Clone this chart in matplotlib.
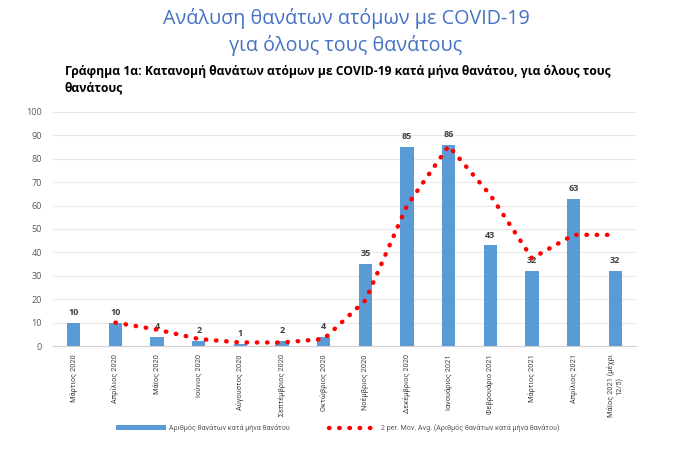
import matplotlib
matplotlib.use("Agg")
import matplotlib.pyplot as plt
import numpy as np

months = ["Μάρτιος 2020", "Απρίλιος 2020", "Μάϊος 2020", "Ιούνιος 2020", "Αύγουστος 2020",
          "Σεπτέμβριος 2020", "Οκτώβριος 2020", "Νοέμβριος 2020", "Δεκέμβριος 2020",
          "Ιανουάριος 2021", "Φεβρουάριο 2021", "Μάρτιος 2021", "Απρίλιος 2021",
          "Μάϊος 2021 (μέχρι\n12/5)"]
deaths = [10, 10, 4, 2, 1, 2, 4, 35, 85, 86, 43, 32, 63, 32]
yticks = [0, 10, 20, 30, 40, 50, 60, 70, 80, 90, 100]

plt.rcParams['font.family'] = ['Open Sans', 'DejaVu Sans']
narrow = ['Roboto', 'Open Sans', 'DejaVu Sans']

fig = plt.figure(figsize=(6.76, 4.51), dpi=100)
ax = fig.add_axes([0.0784, 0.2328, 0.8626, 0.5189])

x = np.arange(len(deaths))
bars = ax.bar(x, deaths, width=0.32, color="#5B9BD5", zorder=2,
              label="Αριθμός θανάτων κατά μήνα θανάτου")
for xi, v in zip(x, deaths):
    ax.text(xi, v + 2.5, str(v), ha="center", va="bottom", fontsize=6.5,
            fontweight="bold", color="#404040")

ma = [(deaths[i - 1] + deaths[i]) / 2 for i in range(1, len(deaths))]
line, = ax.plot(x[1:], ma, color="#FF0000", linestyle=(0, (0.1, 2.2)), linewidth=3.2,
                dash_capstyle="round", zorder=3,
                label="2 per. Mov. Avg. (Αριθμός θανάτων κατά μήνα θανάτου)")

ax.set_xlim(-0.5, len(deaths) - 0.5)
ax.set_ylim(0, 100)
ax.set_yticks(yticks)
ax.set_xticks(x)
ax.set_xticklabels(months, rotation=90, fontsize=5.3, color="#404040", ha="center",
                   multialignment="center", family=narrow)
ax.tick_params(axis="y", labelsize=6.5, labelcolor="#595959", length=0, pad=8)
ax.tick_params(axis="x", length=0, pad=6)
ax.grid(axis="y", color="#E8E8E8", linewidth=0.8, zorder=0)
for s in ["top", "right", "left"]:
    ax.spines[s].set_visible(False)
ax.spines["bottom"].set_color("#D0D0D0")

fig.text(0.512, 0.958, "Ανάλυση θανάτων ατόμων με COVID-19", ha="center", va="center",
         fontsize=14.2, color="#4472C4")
fig.text(0.512, 0.899, "για όλους τους θανάτους", ha="center", va="center",
         fontsize=14.2, color="#4472C4")
fig.text(0.096, 0.842, "Γράφημα 1α: Κατανομή θανάτων ατόμων με COVID-19 κατά μήνα θανάτου, για όλους τους",
         ha="left", va="center", fontsize=8.7, fontweight="bold", color="black")
fig.text(0.096, 0.804, "θανάτους", ha="left", va="center", fontsize=8.7,
         fontweight="bold", color="black")

leg = fig.legend(handles=[bars, line], loc="center", bbox_to_anchor=(0.5, 0.051), ncol=2,
                 frameon=False, prop={'family': narrow, 'size': 5.1},
                 handlelength=7, columnspacing=5.5, handletextpad=0.4)
for t in leg.get_texts():
    t.set_color("#595959")

fig.savefig("out.png", dpi=100)
